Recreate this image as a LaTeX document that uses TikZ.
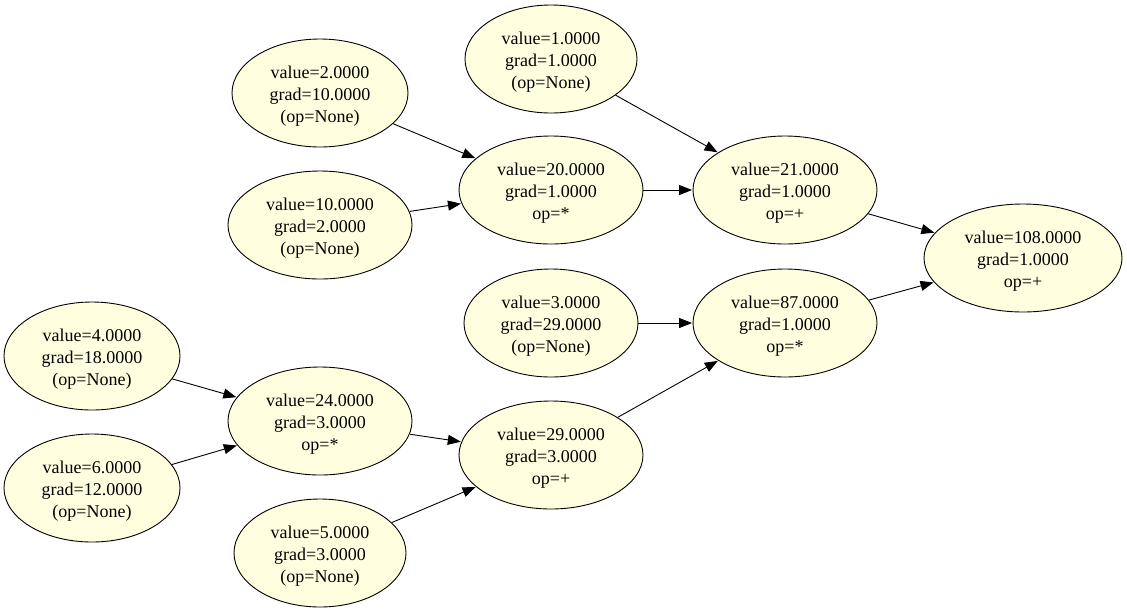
\documentclass[tikz,border=0pt]{standalone}
\usepackage{fontspec}
\setmainfont{Liberation Serif}
\usetikzlibrary{shapes.geometric,arrows.meta}
\definecolor{nodefill}{HTML}{FFFFE0}
% strut on the first line to set the text block a little lower in the ellipse
\newcommand{\firststrut}{\rule{0pt}{18.5pt}}
\tikzset{
  val/.style={ellipse, draw=black, line width=0.9pt, fill=nodefill, inner sep=0pt,
    minimum width=#1, minimum height=108pt, align=center,
    font=\fontsize{18}{22}\selectfont},
  val/.default=176pt,
  edge/.style={-{Triangle[length=13pt,width=10pt]}, line width=0.9pt, shorten >=0.5pt}
}
\begin{document}
\begin{tikzpicture}[x=1pt,y=-1pt]
\useasboundingbox (0,0) rectangle (1127,614);
% leaf and operation nodes of the expression graph
\node[val=172pt] (a) at (551,59)  {\firststrut value=1.0000\\grad=1.0000\\(op=None)};
\node[val=176pt] (b) at (320,93)  {\firststrut value=2.0000\\grad=10.0000\\(op=None)};
\node[val=184pt] (c) at (320,225) {\firststrut value=10.0000\\grad=2.0000\\(op=None)};
\node[val=184pt] (d) at (551,190) {\firststrut value=20.0000\\grad=1.0000\\op=*};
\node[val=184pt] (e) at (785,190) {\firststrut value=21.0000\\grad=1.0000\\op=+};
\node[val=198pt] (f) at (1023,258) {\firststrut value=108.0000\\grad=1.0000\\op=+};
\node[val=174pt] (g) at (551,323) {\firststrut value=3.0000\\grad=29.0000\\(op=None)};
\node[val=184pt] (h) at (785,323) {\firststrut value=87.0000\\grad=1.0000\\op=*};
\node[val=176pt] (i) at (92,356)  {\firststrut value=4.0000\\grad=18.0000\\(op=None)};
\node[val=184pt] (j) at (320,421) {\firststrut value=24.0000\\grad=3.0000\\op=*};
\node[val=176pt] (k) at (92,488)  {\firststrut value=6.0000\\grad=12.0000\\(op=None)};
\node[val=184pt] (l) at (551,455) {\firststrut value=29.0000\\grad=3.0000\\op=+};
\node[val=172pt] (m) at (320,553) {\firststrut value=5.0000\\grad=3.0000\\(op=None)};
% data flow
\draw[edge] (b) -- (d);
\draw[edge] (c) -- (d);
\draw[edge] (a) -- (e);
\draw[edge] (d) -- (e);
\draw[edge] (e) -- (f);
\draw[edge] (h) -- (f);
\draw[edge] (g) -- (h);
\draw[edge] (l) -- (h);
\draw[edge] (i) -- (j);
\draw[edge] (k) -- (j);
\draw[edge] (j) -- (l);
\draw[edge] (m) -- (l);
\end{tikzpicture}
\end{document}
